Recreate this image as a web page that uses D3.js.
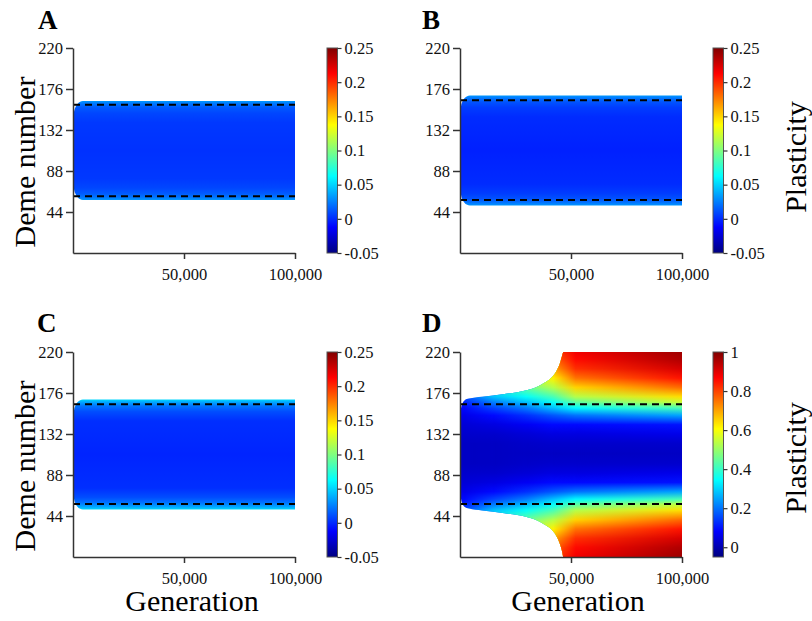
<!DOCTYPE html>
<html>
<head>
<meta charset="utf-8">
<title>Plasticity</title>
<script src="https://cdn.jsdelivr.net/npm/d3@7"></script>
<style>
  body { margin: 0; background: #fff; }
  svg text { font-family: "Liberation Serif", Tinos, "Times New Roman", "DejaVu Serif", "Noto Serif", serif; }
</style>
</head>
<body>
<svg id="chart" width="812" height="621"></svg>
<script>
// ---- data ----
// range edges (deme number) through time
const gensABC = [0, 500, 1000, 2000, 3000, 4500, 100000];
const lowA = [78, 68, 64, 60, 58, 57, 57];
const upA  = [142, 152, 156, 160, 162, 163, 163];
const lowB = [72, 62, 58, 54, 52, 51, 51];
const upB  = [148, 158, 162, 166, 168, 169, 169];
const lowC = [72, 62, 58, 54, 52, 51, 51];
const upC  = [148, 158, 162, 166, 168, 169, 169];

const gensD = [0, 500, 1000, 2000, 4000, 10000, 20000, 30000, 35000, 38000, 40500, 43500, 45000, 46000, 46600, 100000];
const upD  = [150, 160, 164, 168, 170, 172, 175, 179, 183, 187, 191, 200, 208, 216, 220, 220];
const lowD = [72, 62, 58, 54, 52, 50, 47, 43, 39, 35, 31, 22, 14, 6, 0, 0];

// plasticity across demes
const demesAB = [57, 60, 64, 70, 80, 110, 140, 150, 156, 160, 163];
const plastA  = [0.032, 0.022, 0.014, 0.008, 0.004, 0.002, 0.004, 0.008, 0.014, 0.022, 0.032];
const demesBC = [51, 54, 58, 64, 74, 110, 146, 156, 162, 166, 169];
const plastB  = [0.032, 0.022, 0.012, 0.005, 0.0, -0.003, 0.0, 0.005, 0.012, 0.022, 0.032];
const plastC  = [0.05, 0.036, 0.022, 0.01, 0.001, -0.002, 0.001, 0.01, 0.022, 0.036, 0.05];

// panel D: profiles at several generations
const demesD = [0, 10, 20, 30, 40, 50, 56, 62, 70, 80, 90, 100, 111, 122, 132, 142, 152, 160, 166, 172, 182, 192, 202, 212, 220];
const profileGensD = [2000, 15000, 30000, 42000, 52000, 100000];
const plastD2k   = [0.4, 0.35, 0.3, 0.25, 0.2, 0.16, 0.12, 0.09, 0.06, 0.04, 0.03, 0.02, 0.02, 0.02, 0.03, 0.04, 0.06, 0.09, 0.12, 0.16, 0.2, 0.25, 0.3, 0.35, 0.4];
const plastD15k  = [0.65, 0.6, 0.54, 0.46, 0.38, 0.28, 0.21, 0.15, 0.09, 0.05, 0.03, 0.02, 0.02, 0.02, 0.03, 0.05, 0.09, 0.15, 0.21, 0.28, 0.38, 0.46, 0.54, 0.6, 0.65];
const plastD30k  = [0.72, 0.68, 0.62, 0.54, 0.45, 0.35, 0.28, 0.21, 0.13, 0.07, 0.04, 0.025, 0.02, 0.025, 0.04, 0.07, 0.13, 0.21, 0.28, 0.35, 0.45, 0.54, 0.62, 0.68, 0.72];
const plastD42k  = [0.8, 0.76, 0.7, 0.62, 0.53, 0.42, 0.35, 0.28, 0.17, 0.09, 0.05, 0.03, 0.02, 0.03, 0.05, 0.09, 0.17, 0.28, 0.35, 0.42, 0.53, 0.62, 0.7, 0.76, 0.8];
const plastD52k  = [0.88, 0.86, 0.82, 0.75, 0.65, 0.53, 0.44, 0.34, 0.2, 0.09, 0.05, 0.03, 0.02, 0.03, 0.05, 0.09, 0.2, 0.34, 0.44, 0.53, 0.65, 0.75, 0.82, 0.86, 0.88];
const plastD100k = [0.97, 0.95, 0.91, 0.85, 0.76, 0.64, 0.55, 0.42, 0.25, 0.1, 0.06, 0.03, 0.02, 0.03, 0.06, 0.1, 0.25, 0.42, 0.55, 0.64, 0.76, 0.85, 0.91, 0.95, 0.97];

// dashed reference lines
const dashA = [61, 159];
const dashBCD = [57, 164];

// axis ticks
const demeTicks = [44, 88, 132, 176, 220];
const genTicks = [50000, 100000];
const cbTicksSmall = [-0.05, 0, 0.05, 0.1, 0.15, 0.2, 0.25];
const cbTicksD = [0, 0.2, 0.4, 0.6, 0.8, 1];

// ---- layout ----
const W = 222, H = 205;
const serif = "'Liberation Serif', Tinos, 'Times New Roman', 'DejaVu Serif', serif";
const panels = [
  {id: "A", x: 73,  y: 48,  cb: 327, lx: 38,  ly: 29,  gens: gensABC, low: lowA, up: upA,
   demes: demesAB, profiles: [plastA], pgens: [0], dash: dashA, cdom: [-0.05, 0.25], cticks: cbTicksSmall},
  {id: "B", x: 460, y: 48,  cb: 713, lx: 422, ly: 29,  gens: gensABC, low: lowB, up: upB,
   demes: demesBC, profiles: [plastB], pgens: [0], dash: dashBCD, cdom: [-0.05, 0.25], cticks: cbTicksSmall},
  {id: "C", x: 73,  y: 352, cb: 327, lx: 37,  ly: 332, gens: gensABC, low: lowC, up: upC,
   demes: demesBC, profiles: [plastC], pgens: [0], dash: dashBCD, cdom: [-0.05, 0.25], cticks: cbTicksSmall},
  {id: "D", x: 460, y: 352, cb: 713, lx: 422, ly: 332, gens: gensD, low: lowD, up: upD,
   demes: demesD, profiles: [plastD2k, plastD15k, plastD30k, plastD42k, plastD52k, plastD100k],
   pgens: profileGensD, dash: dashBCD, cdom: [-0.05, 1], cticks: cbTicksD}
];

const jetT = [0, 0.125, 0.375, 0.625, 0.875, 1];
const jetC = ["#000080", "#0000ff", "#00ffff", "#ffff00", "#ff0000", "#800000"];
const axisCol = "#333";

const svg = d3.select("#chart").attr("font-family", serif);
const defs = svg.append("defs");

panels.forEach(p => {
  const x = d3.scaleLinear().domain([0, 100000]).range([p.x, p.x + W]);
  const y = d3.scaleLinear().domain([0, 220]).range([p.y + H, p.y]);
  const [c0, c1] = p.cdom;
  const color = d3.scaleLinear()
    .domain(jetT.map(t => c0 + t * (c1 - c0)))
    .range(jetC)
    .clamp(true);

  // clip to the occupied range
  const area = d3.area()
    .x((d, i) => x(p.gens[i]))
    .y0((d, i) => y(p.low[i]))
    .y1((d, i) => y(p.up[i]))
    .curve(d3.curveMonotoneX);
  defs.append("clipPath").attr("id", "band" + p.id)
    .append("path").attr("d", area(p.gens));

  const g = svg.append("g").attr("clip-path", "url(#band" + p.id + ")");

  p.profiles.forEach((vals, k) => {
    const grad = defs.append("linearGradient")
      .attr("id", "prof" + p.id + k)
      .attr("gradientUnits", "userSpaceOnUse")
      .attr("x1", 0).attr("x2", 0)
      .attr("y1", y(0)).attr("y2", y(220));
    grad.selectAll("stop").data(p.demes).join("stop")
      .attr("offset", d => d / 220)
      .attr("stop-color", (d, i) => color(vals[i]));

    const r = g.append("rect")
      .attr("x", p.x).attr("y", p.y).attr("width", W).attr("height", H)
      .attr("fill", "url(#prof" + p.id + k + ")");

    if (k > 0) {
      // fade in this profile between the previous and this generation
      const ramp = defs.append("linearGradient")
        .attr("id", "ramp" + p.id + k)
        .attr("gradientUnits", "userSpaceOnUse")
        .attr("x1", x(p.pgens[k - 1])).attr("x2", x(p.pgens[k]))
        .attr("y1", 0).attr("y2", 0);
      ramp.append("stop").attr("offset", 0).attr("stop-color", "#000");
      ramp.append("stop").attr("offset", 1).attr("stop-color", "#fff");
      defs.append("mask").attr("id", "mask" + p.id + k)
        .attr("maskUnits", "userSpaceOnUse")
        .attr("x", 0).attr("y", 0).attr("width", 812).attr("height", 621)
        .append("rect").attr("x", 0).attr("y", 0).attr("width", 812).attr("height", 621)
        .attr("fill", "url(#ramp" + p.id + k + ")");
      r.attr("mask", "url(#mask" + p.id + k + ")");
    }
  });

  // dashed lines
  svg.append("g").selectAll("line").data(p.dash).join("line")
    .attr("x1", x(0)).attr("x2", x(100000))
    .attr("y1", d => y(d)).attr("y2", d => y(d))
    .attr("stroke", "#000").attr("stroke-width", 2)
    .attr("stroke-dasharray", "7,5");

  // axes
  const ax = svg.append("g").attr("transform", `translate(${p.x},0)`)
    .call(d3.axisLeft(y).tickValues(demeTicks).tickSize(7).tickSizeOuter(0).tickPadding(3));
  const bx = svg.append("g").attr("transform", `translate(0,${p.y + H})`)
    .call(d3.axisBottom(x).tickValues(genTicks).tickFormat(d3.format(",")).tickSize(6).tickSizeOuter(0).tickPadding(9));
  [ax, bx].forEach(a => {
    a.attr("font-family", serif).attr("font-size", 16.5);
    a.select(".domain").attr("stroke", axisCol).attr("stroke-width", 1.5);
    a.selectAll(".tick line").attr("stroke", axisCol).attr("stroke-width", 1.5);
    a.selectAll("text").attr("fill", "#111");
  });

  // colour bar
  const cy = d3.scaleLinear().domain(p.cdom).range([p.y + H, p.y]);
  const cg = defs.append("linearGradient").attr("id", "cbar" + p.id)
    .attr("x1", 0).attr("x2", 0).attr("y1", 1).attr("y2", 0);
  cg.selectAll("stop").data(jetT).join("stop")
    .attr("offset", d => d).attr("stop-color", (d, i) => jetC[i]);
  svg.append("rect")
    .attr("x", p.cb).attr("y", p.y).attr("width", 10.5).attr("height", H)
    .attr("fill", "url(#cbar" + p.id + ")")
    .attr("stroke", "#555").attr("stroke-width", 1);
  const cax = svg.append("g").attr("transform", `translate(${p.cb + 10.5},0)`)
    .call(d3.axisRight(cy).tickValues(p.cticks).tickSize(4).tickPadding(3)
      .tickFormat(d => String(d)));
  cax.attr("font-family", serif).attr("font-size", 16.5);
  cax.select(".domain").remove();
  cax.selectAll(".tick line").attr("stroke", axisCol).attr("stroke-width", 1.2);
  cax.selectAll("text").attr("fill", "#111");

  // panel letter
  svg.append("text").attr("x", p.lx).attr("y", p.ly)
    .attr("font-size", 27).attr("font-weight", "bold").text(p.id);
});

// axis titles
const bigFont = 30;
[162, 466].forEach(cy => {
  svg.append("text")
    .attr("transform", `translate(35,${cy}) rotate(-90)`)
    .attr("text-anchor", "middle").attr("font-size", bigFont)
    .text("Deme number");
});
[192, 578].forEach(cx => {
  svg.append("text").attr("x", cx).attr("y", 611)
    .attr("text-anchor", "middle").attr("font-size", bigFont)
    .text("Generation");
});
[157, 458].forEach(cy => {
  svg.append("text")
    .attr("transform", `translate(806,${cy}) rotate(-90)`)
    .attr("text-anchor", "middle").attr("font-size", bigFont)
    .text("Plasticity");
});
</script>
</body>
</html>
